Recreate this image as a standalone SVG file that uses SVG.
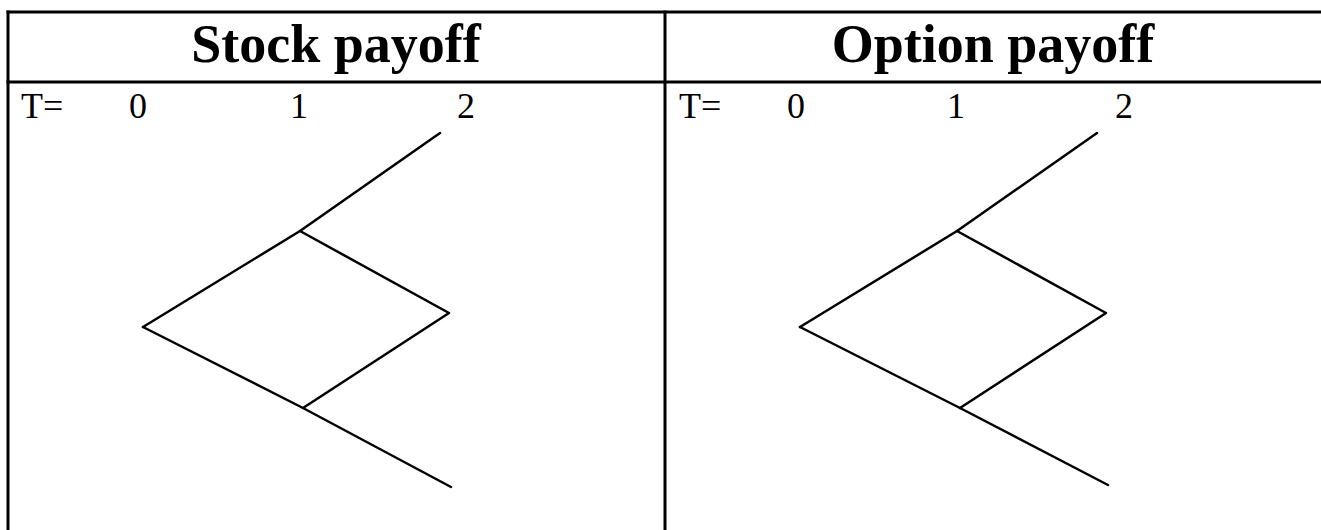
<svg xmlns="http://www.w3.org/2000/svg" width="1321" height="530" viewBox="0 0 1321 530">
<style>
.grid{stroke:#000;stroke-width:3;fill:none}
.title{font-family:"Liberation Serif",serif;font-weight:bold;font-size:54px;text-anchor:middle;fill:#000}
.lbl{font-family:"Liberation Serif",serif;font-size:36px;fill:#000}
.num{font-family:"Liberation Serif",serif;font-size:36px;text-anchor:middle;fill:#000}
.edge{stroke:#000;stroke-width:2.5;fill:none;stroke-linejoin:round;stroke-linecap:round}
</style>
<rect width="1321" height="530" fill="#fff"/>
<g id="table">
<line class="grid" x1="6.5" y1="12" x2="1321" y2="12"/>
<line class="grid" x1="6.5" y1="82" x2="1321" y2="82"/>
<line class="grid" x1="8" y1="10.5" x2="8" y2="530"/>
<line class="grid" x1="665" y1="10.5" x2="665" y2="530"/>
</g>
<g id="stock-panel">
<text class="title" x="336" y="62">Stock payoff</text>
<text class="lbl" x="21" y="118">T=</text>
<text class="num" x="138" y="118">0</text>
<text class="num" x="299" y="118">1</text>
<text class="num" x="466" y="118">2</text>
</g>
<g id="option-panel">
<text class="title" x="993" y="62">Option payoff</text>
<text class="lbl" x="679" y="118">T=</text>
<text class="num" x="796" y="118">0</text>
<text class="num" x="956" y="118">1</text>
<text class="num" x="1124" y="118">2</text>
</g>
<g id="connectors">
<polyline class="edge" points="143,327 300,231 440,133"/>
<polyline class="edge" points="300,231 449,313 303,408"/>
<polyline class="edge" points="143,327 303,408 451,487"/>
<polyline class="edge" points="800,327 957,231 1097,133"/>
<polyline class="edge" points="957,231 1106,313 960,408"/>
<polyline class="edge" points="800,327 960,408 1108,485"/>
</g>
</svg>
